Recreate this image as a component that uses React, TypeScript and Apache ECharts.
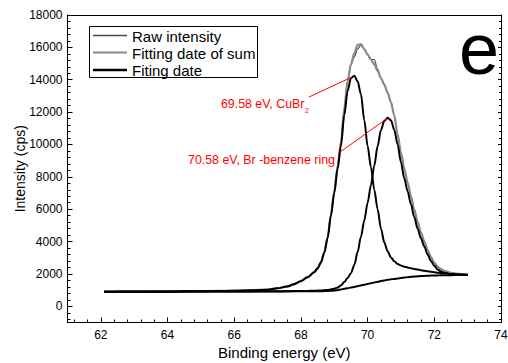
import { useEffect, useRef } from "react";
import * as echarts from "echarts";

const bindingEnergy = [
  62.1, 62.5, 63, 63.5, 64, 64.5, 65, 65.5, 66, 66.5,
  67, 67.3, 67.6, 67.8, 68.0, 68.2, 68.4, 68.5, 68.6, 68.7,
  68.8, 68.9, 69.0, 69.1, 69.2, 69.3, 69.4, 69.5, 69.6, 69.7,
  69.8, 69.9, 70.0, 70.1, 70.2, 70.3, 70.4, 70.5, 70.6, 70.7,
  70.8, 70.9, 71.0, 71.1, 71.2, 71.3, 71.4, 71.5, 71.6, 71.7,
  71.8, 71.9, 72.0, 72.1, 72.2, 72.3, 72.5, 72.7, 73.0,
];

const rawIntensity = [
  905, 909, 913, 917, 921, 927, 936, 948, 964, 990,
  1037, 1120, 1242, 1385, 1575, 1815, 2132, 2378, 2745, 3355,
  4267, 5685, 7115, 8660, 10150, 12220, 13930, 14950, 15400, 15900,
  16150, 15900, 15550, 15250, 15250, 14650, 14100, 13700, 13200, 12600,
  11800, 10600, 9500, 8500, 7650, 6800, 5970, 5215, 4560, 4020,
  3480, 3042, 2705, 2450, 2295, 2190, 2065, 2000, 1955,
];

const fitSum = [
  905, 909, 913, 917, 921, 927, 936, 948, 964, 990,
  1037, 1120, 1242, 1385, 1575, 1815, 2132, 2378, 2745, 3355,
  4267, 5685, 7115, 8660, 10150, 12220, 13930, 14950, 15650, 16150,
  16200, 15900, 15550, 15250, 14950, 14550, 14100, 13700, 13200, 12600,
  11800, 10600, 9500, 8500, 7650, 6800, 5970, 5215, 4560, 4020,
  3480, 3042, 2705, 2450, 2295, 2190, 2065, 2000, 1955,
];

const fitCuBr2 = [
  905, 908, 912, 916, 920, 926, 934, 945, 960, 985,
  1030, 1110, 1230, 1370, 1555, 1790, 2100, 2340, 2700, 3300,
  4200, 5600, 7000, 8500, 9900, 11800, 13300, 14100, 14250, 13900,
  13100, 11500, 9900, 8600, 7200, 6000, 4800, 3950, 3400, 3020,
  2780, 2620, 2520, 2450, 2400, 2350, 2310, 2270, 2230, 2200,
  2170, 2140, 2110, 2080, 2060, 2040, 2000, 1975, 1950,
];

const fitBrBenzene = [
  900, 901, 903, 905, 907, 909, 912, 915, 918, 922,
  927, 931, 936, 940, 945, 952, 962, 970, 980, 995,
  1015, 1045, 1090, 1160, 1290, 1500, 1750, 2050, 2550, 3350,
  4300, 5300, 6400, 7500, 8700, 9900, 10900, 11450, 11650, 11500,
  10900, 10000, 8900, 7900, 7100, 6300, 5500, 4800, 4200, 3700,
  3200, 2800, 2500, 2280, 2150, 2070, 1990, 1955, 1940,
];

const fitBackground = [
  900, 900, 902, 904, 906, 908, 910, 912, 914, 917,
  920, 922, 924, 925, 926, 928, 930, 932, 935, 940,
  948, 960, 975, 1000, 1040, 1080, 1120, 1160, 1200, 1245,
  1290, 1335, 1380, 1425, 1470, 1515, 1560, 1600, 1635, 1665,
  1695, 1720, 1750, 1775, 1800, 1820, 1840, 1855, 1870, 1880,
  1890, 1898, 1905, 1910, 1915, 1920, 1925, 1930, 1935,
];

const legendNames = ["Raw intensity", "Fitting date of sum", "Fiting date"];
const peakLabel1 = "69.58 eV, CuBr";
const peakLabel1Sub = "2";
const peakLabel2 = "70.58 eV, Br -benzene ring";
const panelLetter = "e";

const FONT = "'Liberation Sans', Arial, sans-serif";

function pairs(ys: number[]) {
  return bindingEnergy.map((x, i) => [x, ys[i]]);
}

export default function App() {
  const ref = useRef<HTMLDivElement>(null);
  useEffect(() => {
    const chart = echarts.init(ref.current!, null, { renderer: "svg" });
    const black = "#000";
    const lineSeries = (name: string, ys: number[], color: string, width: number) => ({
      type: "line",
      name,
      data: pairs(ys),
      showSymbol: false,
      symbol: "none",
      smooth: 0.3,
      smoothMonotone: "x",
      lineStyle: { color, width },
      itemStyle: { color },
      emphasis: { disabled: true },
    });
    const txt = (x: number, y: number, text: string, size: number, fill: string, align = "left") => ({
      type: "text",
      x,
      y,
      z: 100,
      style: {
        text,
        fill,
        fontSize: size,
        fontFamily: FONT,
        align,
        textAlign: align,
        verticalAlign: "middle",
        textVerticalAlign: "middle",
      },
    });
    const option = {
      animation: false,
      backgroundColor: "#fff",
      textStyle: { fontFamily: FONT },
      grid: {
        left: 67.5,
        top: 15,
        width: 433.5,
        height: 307.5,
        containLabel: false,
        outerBoundsMode: "none",
      },
      xAxis: [
        {
          type: "value",
          min: 61,
          max: 74,
          splitNumber: 6,
          position: "bottom",
          name: "Binding energy (eV)",
          nameLocation: "middle",
          nameGap: 22,
          nameMoveOverlap: false,
          nameTextStyle: { fontSize: 15, color: black, fontFamily: FONT },
          axisLine: { show: true, onZero: false, lineStyle: { color: black, width: 1 } },
          axisTick: { show: true, inside: true, length: 5, lineStyle: { color: black } },
          minorTick: { show: true, splitNumber: 5, length: 3, lineStyle: { color: black } },
          axisLabel: {
            showMinLabel: false,
            margin: 6,
            fontSize: 12,
            color: black,
            fontFamily: FONT,
            formatter: (v: number) => String(v),
          },
          splitLine: { show: false },
          minorSplitLine: { show: false },
        },
        {
          type: "value",
          min: 61,
          max: 74,
          position: "top",
          axisLine: { show: true, onZero: false, lineStyle: { color: black, width: 1 } },
          axisTick: { show: false },
          axisLabel: { show: false },
          splitLine: { show: false },
        },
      ],
      yAxis: [
        {
          type: "value",
          min: -1000,
          max: 18000,
          splitNumber: 9,
          position: "left",
          name: "Intensity (cps)",
          nameLocation: "middle",
          nameGap: 41,
          nameMoveOverlap: false,
          nameTextStyle: { fontSize: 14, color: black, fontFamily: FONT },
          axisLine: { show: true, onZero: false, lineStyle: { color: black, width: 1 } },
          axisTick: { show: true, inside: true, length: 5, lineStyle: { color: black } },
          minorTick: { show: true, splitNumber: 5, length: 3, lineStyle: { color: black } },
          axisLabel: {
            showMinLabel: false,
            margin: 5,
            fontSize: 12,
            color: black,
            fontFamily: FONT,
            formatter: (v: number) => String(v),
          },
          splitLine: { show: false },
          minorSplitLine: { show: false },
        },
        {
          type: "value",
          min: -1000,
          max: 18000,
          splitNumber: 9,
          position: "right",
          axisLine: { show: true, onZero: false, lineStyle: { color: black, width: 1 } },
          axisTick: { show: true, inside: true, length: 3, lineStyle: { color: black } },
          minorTick: { show: true, splitNumber: 5, length: 2, lineStyle: { color: black } },
          axisLabel: { show: false },
          splitLine: { show: false },
        },
      ],
      series: [
        lineSeries(legendNames[0], rawIntensity, "#4a4a4a", 1.2),
        lineSeries(legendNames[1], fitSum, "#8a8a8a", 2.2),
        lineSeries(legendNames[2], fitBackground, black, 2),
        lineSeries(legendNames[2] + " 2", fitBrBenzene, black, 2),
        lineSeries(legendNames[2] + " 1", fitCuBr2, black, 2),
      ],
      graphic: [
        {
          type: "rect",
          z: 100,
          shape: { x: 89.5, y: 26.5, width: 168, height: 51 },
          style: { fill: "#fff", stroke: black, lineWidth: 1 },
        },
        { type: "line", z: 101, shape: { x1: 93, y1: 35.5, x2: 127, y2: 35.5 }, style: { stroke: "#4a4a4a", lineWidth: 1.3 } },
        { type: "line", z: 101, shape: { x1: 93, y1: 52.5, x2: 127, y2: 52.5 }, style: { stroke: "#8a8a8a", lineWidth: 1.8 } },
        { type: "line", z: 101, shape: { x1: 93, y1: 70, x2: 127, y2: 70 }, style: { stroke: black, lineWidth: 2.4 } },
        txt(132, 36, legendNames[0], 15, black),
        txt(132, 53, legendNames[1], 15, black),
        txt(132, 70, legendNames[2], 15, black),
        { type: "line", z: 101, shape: { x1: 309, y1: 97, x2: 352, y2: 77 }, style: { stroke: "#ff0000", lineWidth: 1 } },
        { type: "line", z: 101, shape: { x1: 338, y1: 153.5, x2: 387, y2: 118.5 }, style: { stroke: "#ff0000", lineWidth: 1 } },
        txt(304.5, 104, peakLabel1, 12.4, "#ff0000", "right"),
        txt(305, 110, peakLabel1Sub, 7, "#ff0000"),
        txt(188, 160, peakLabel2, 12.4, "#ff0000"),
        txt(479, 49, panelLetter, 72, black, "center"),
      ],
    };
    chart.setOption(option as any);
    return () => chart.dispose();
  }, []);
  return (
    <div
      ref={ref}
      style={{ position: "absolute", left: 0, top: 0, width: 508, height: 363 }}
    />
  );
}
